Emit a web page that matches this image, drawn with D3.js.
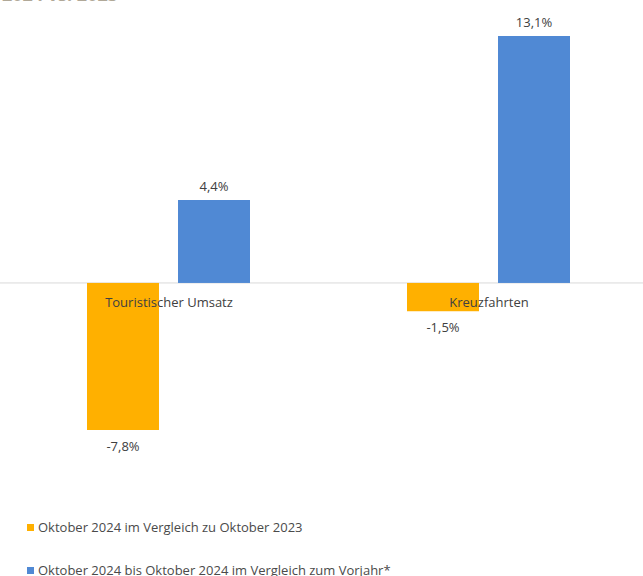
<!DOCTYPE html>
<html>
<head>
<meta charset="utf-8">
<script src="https://cdn.jsdelivr.net/npm/d3@7"></script>
<style>
  body { margin: 0; background: #fff; }
  text { font-family: "Open Sans", sans-serif; }
</style>
</head>
<body>
<div id="chart"></div>
<script>
// data
const kategorien = ["Touristischer Umsatz", "Kreuzfahrten"];
const serien = ["Oktober 2024 im Vergleich zu Oktober 2023", "Oktober 2024 bis Oktober 2024 im Vergleich zum Vorjahr*"];
const werteOkt = [-7.8, -1.5];
const werteJahr = [4.4, 13.1];
const farben = ["#FFB000", "#5089D4"];

const W = 643, H = 576;

const svg = d3.select("#chart").append("svg")
  .attr("width", W).attr("height", H);

// abgeschnittener titel oben links
svg.append("text")
  .attr("x", 2).attr("y", 1)
  .attr("fill", "#b0a898")
  .style("font-size", "18px").style("font-weight", "bold")
  .text("2024 vs. 2023");

const data = kategorien.map((k, i) => ({ kat: k, werte: [werteOkt[i], werteJahr[i]] }));

const x0 = d3.scaleBand().domain(kategorien).range([8, 648]);
const x1 = d3.scaleBand().domain([0, 1]).range([79, 242]).paddingInner(0.209);
const y = d3.scaleLinear().domain([-7.8, 13.1]).range([430, 36]);

// nulllinie
svg.append("line")
  .attr("x1", 0).attr("x2", W)
  .attr("y1", y(0)).attr("y2", y(0))
  .attr("stroke", "#d9d9d9").attr("stroke-width", 1);

const g = svg.selectAll("g.kat").data(data).enter().append("g")
  .attr("transform", d => "translate(" + x0(d.kat) + ",0)");

g.selectAll("rect").data(d => d.werte).enter().append("rect")
  .attr("x", (d, i) => x1(i))
  .attr("y", d => y(Math.max(0, d)))
  .attr("width", x1.bandwidth())
  .attr("height", d => Math.abs(y(d) - y(0)))
  .attr("fill", (d, i) => farben[i]);

const fmt = v => String(v.toFixed(1)).replace(".", ",") + "%";

g.selectAll("text.wert").data(d => d.werte).enter().append("text")
  .attr("class", "wert")
  .attr("x", (d, i) => x1(i) + x1.bandwidth() / 2)
  .attr("y", d => d >= 0 ? y(d) - 9 : y(d) + 21)
  .attr("text-anchor", "middle")
  .attr("fill", "#404040")
  .style("font-size", "13px")
  .text(d => fmt(d));

// kategorie labels
g.append("text")
  .attr("x", x0.bandwidth() / 2 + 1)
  .attr("y", y(0) + 24)
  .attr("text-anchor", "middle")
  .attr("fill", "#404040")
  .style("font-size", "13px")
  .text(d => d.kat);

// legende
const leg = svg.selectAll("g.leg").data(serien).enter().append("g")
  .attr("transform", (d, i) => "translate(27," + (528 + i * 43) + ")");
leg.append("rect").attr("x", 0).attr("y", -4).attr("width", 7).attr("height", 7)
  .attr("fill", (d, i) => farben[i]);
leg.append("text").attr("x", 11).attr("y", 4)
  .attr("fill", "#4a4a4a")
  .style("font-size", "13px")
  .text(d => d);
</script>
</body>
</html>
